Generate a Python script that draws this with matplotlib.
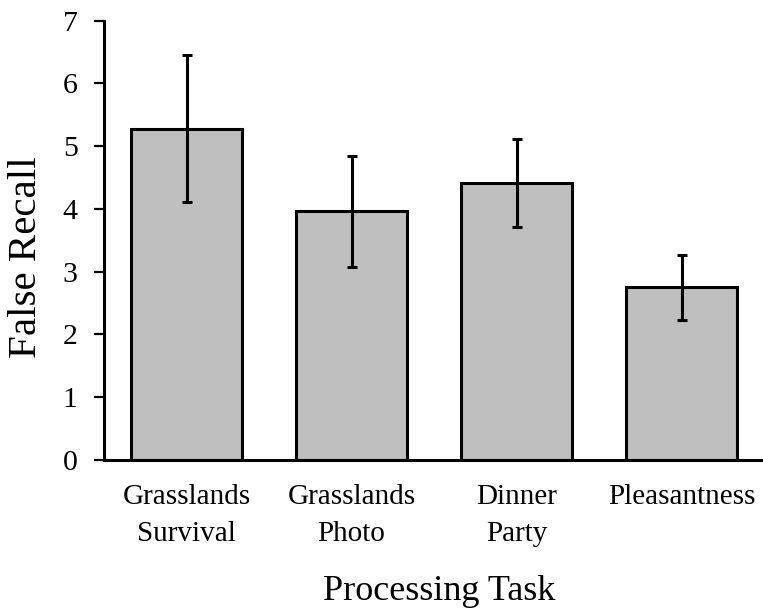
import matplotlib
matplotlib.use("Agg")
import matplotlib.pyplot as plt

categories = ["Grasslands\nSurvival", "Grasslands\nPhoto", "Dinner\nParty", "Pleasantness"]
means = [5.28, 3.96, 4.41, 2.75]
errors = [1.17, 0.88, 0.70, 0.52]
yticks = [0, 1, 2, 3, 4, 5, 6, 7]

plt.rcParams['font.family'] = ['Liberation Serif', 'DejaVu Serif']

fig = plt.figure(figsize=(7.63, 6.10), dpi=100)
ax = fig.add_axes([104/763, 150/610, 660/763, 439.3/610])

x = list(range(len(categories)))
ax.bar(x, means, width=0.667, color="#bfbfbf", edgecolor="black", linewidth=2.2, zorder=2)
ax.errorbar(x, means, yerr=errors, fmt="none", ecolor="black", elinewidth=2.2,
            capsize=3.5, capthick=2.2, zorder=3)

ax.set_xlim(-0.5, 3.5)
ax.set_ylim(0, 7)
ax.set_yticks(yticks)
ax.set_xticks(x)
ax.set_xticklabels(categories, fontsize=21, linespacing=1.55)
ax.tick_params(axis="y", labelsize=21.5, width=1.6, length=7, direction="out", pad=12)
ax.tick_params(axis="x", length=0, pad=17)
for s in ["top", "right"]:
    ax.spines[s].set_visible(False)
ax.spines["left"].set_linewidth(2.2)
ax.spines["bottom"].set_linewidth(2.2)
ax.set_ylabel("False Recall", fontsize=29.5)
ax.yaxis.set_label_coords(-0.089, 0.462)
ax.set_xlabel("Processing Task", fontsize=26)
ax.xaxis.set_label_coords(0.508, -0.262)

fig.savefig("out.png", dpi=100)
